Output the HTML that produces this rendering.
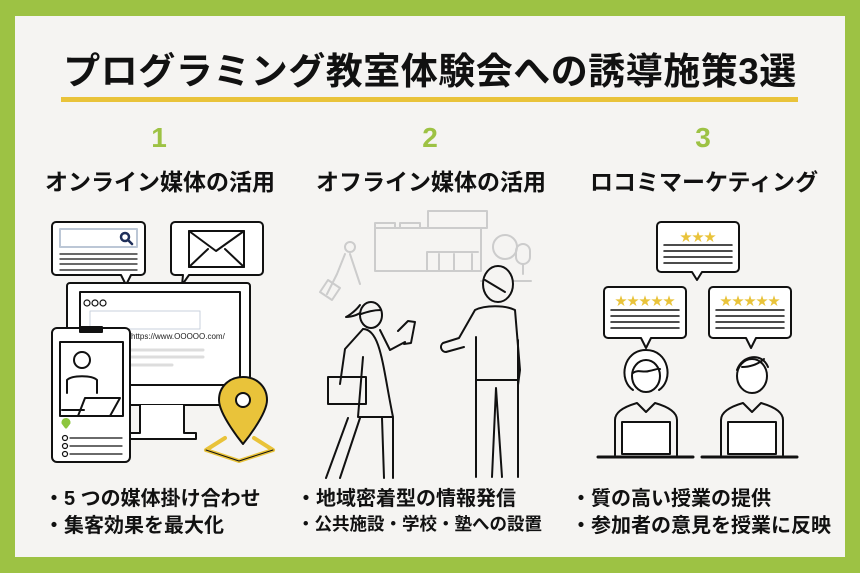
<!DOCTYPE html>
<html><head><meta charset="utf-8"><style>
html,body{margin:0;padding:0;}
body{width:860px;height:573px;background:#9dc244;position:relative;overflow:hidden;font-family:"Liberation Sans","Noto Sans CJK JP",sans-serif;}
.in{position:absolute;left:15px;top:16px;width:830px;height:541px;background:#f5f4f2;}
.t{position:absolute;white-space:nowrap;font-weight:bold;color:#111;}
</style></head><body>
<div class="in"></div>
<div class="t" style="left:0;width:860px;text-align:center;top:41px;font-size:37px;letter-spacing:0.5px;">プログラミング教室体験会への誘導施策3選</div>
<div style="position:absolute;left:61px;top:97px;width:737px;height:5px;background:#e9c33a"></div>
<div class="t" style="left:145px;top:122px;font-size:28px;color:#9dc244;width:28px;text-align:center">1</div>
<div class="t" style="left:416px;top:122px;font-size:28px;color:#9dc244;width:28px;text-align:center">2</div>
<div class="t" style="left:689px;top:122px;font-size:28px;color:#9dc244;width:28px;text-align:center">3</div>
<div class="t" style="left:45px;top:163px;font-size:23px;">オンライン媒体の活用</div>
<div class="t" style="left:316px;top:163px;font-size:23px;">オフライン媒体の活用</div>
<div class="t" style="left:590px;top:163px;font-size:23px;">ロコミマーケティング</div>
<div class="t" style="left:44px;top:482px;font-size:20px;">・5 つの媒体掛け合わせ</div>
<div class="t" style="left:44px;top:509px;font-size:20px;">・集客効果を最大化</div>
<div class="t" style="left:296px;top:482px;font-size:20px;">・地域密着型の情報発信</div>
<div class="t" style="left:297px;top:511px;font-size:17.5px;">・公共施設・学校・塾への設置</div>
<div class="t" style="left:571px;top:482px;font-size:20px;">・質の高い授業の提供</div>
<div class="t" style="left:571px;top:509px;font-size:20px;">・参加者の意見を授業に反映</div>
<svg width="860" height="573" style="position:absolute;left:0;top:0" fill="none" stroke="#111" stroke-width="2" stroke-linejoin="round" stroke-linecap="round">
<path d="M56 222h85a4 4 0 0 1 4 4v45a4 4 0 0 1-4 4h-10l-5 10-5-10H56a4 4 0 0 1-4-4v-45a4 4 0 0 1 4-4z" fill="#fff"/>
<rect x="60" y="229" width="77" height="18" fill="#fff" stroke="#bcc7d6"/>
<circle cx="125" cy="237" r="4" stroke="#1f2f5a" stroke-width="2.5"/><path d="M128 240l4 4" stroke="#1f2f5a" stroke-width="2.5"/>
<path d="M60 254h77M60 259h77M60 264h77M60 270h77" stroke-width="1.3"/>
<path d="M175 222h84a4 4 0 0 1 4 4v45a4 4 0 0 1-4 4h-70l-7 10 1-10h-8a4 4 0 0 1-4-4v-45a4 4 0 0 1 4-4z" fill="#fff"/>
<rect x="189" y="231" width="55" height="36"/><path d="M189 231l27 20 28-20M189 267l19-18M244 267l-19-18"/>
<rect x="67" y="283" width="183" height="122" rx="3" fill="#fff"/>
<rect x="80" y="292" width="160" height="93" fill="#fff"/>
<path d="M140 405v28h-12v6h68v-6h-12v-28" fill="#fff"/>
<circle cx="87" cy="303" r="3" stroke-width="1.2"/><circle cx="95" cy="303" r="3" stroke-width="1.2"/><circle cx="103" cy="303" r="3" stroke-width="1.2"/>
<rect x="90" y="311" width="110" height="18" stroke="#c8d0dc" stroke-width="1"/>
<text x="131" y="339" font-size="8" fill="#222" stroke="none" font-family="Liberation Sans">https://www.OOOOO.com/</text>
<path d="M130 350h73M130 357h73M130 365h42" stroke="#ddd" stroke-width="3"/>
<rect x="52" y="328" width="78" height="134" rx="5" fill="#fff"/>
<rect x="80" y="327" width="22" height="5" fill="#111"/>
<rect x="60" y="342" width="63" height="74"/>
<circle cx="82" cy="360" r="8"/><path d="M67 393v-13c5-5 25-5 30 0v13M62 410h22M85 398h35l-10 18H78z"/>
<path d="M63 423l3 4 3-4a2 2 0 0 0-6-1z" fill="#8dc63f" stroke="#8dc63f" stroke-width="3"/>
<circle cx="65" cy="438" r="2.5" stroke-width="1.2"/><circle cx="65" cy="446" r="2.5" stroke-width="1.2"/><circle cx="65" cy="454" r="2.5" stroke-width="1.2"/>
<path d="M70 438h52M70 446h52M70 454h52" stroke-width="1.2"/>
<path d="M206 450l19-12M273 450l-19-12M206 450l33 11 34-11" stroke="#e9c33a" stroke-width="4"/>
<path d="M206 450l33 11 34-11" stroke="#111" stroke-width="1" fill="none"/>
<path d="M243 377c-14 0-24 10-24 23 0 15 24 44 24 44s24-29 24-44c0-13-10-23-24-23z" fill="#e9c33a"/>
<circle cx="243" cy="400" r="7" fill="#fff"/>
<g stroke="#ccc" stroke-width="2">
<rect x="428" y="211" width="59" height="17"/><path d="M375 228h106v43H375zM375 228v-5h20v5M400 228v-5h20v5"/>
<path d="M435 252h-8v19M435 252h43M439 254v17M454 254v17M472 254v17"/>
<circle cx="505" cy="247" r="12"/><rect x="516" y="244" width="14" height="20" rx="7"/><path d="M523 264v10M481 281h50"/>
<circle cx="350" cy="247" r="5"/><path d="M345 254l-8 20-10 20M350 254l10 30M328 280l12 8-8 12-12-8z"/>
</g>
<g stroke-width="2">
<ellipse cx="371" cy="315" rx="11" ry="13" fill="#f5f4f2"/><path d="M360 305c-6 8-14 12-14 12s8 0 14-4"/><path d="M361 314c6-2 12-4 20-4"/>
<path d="M363 329l-18 20 -5 35M380 330l10 20 15-8M398 331l10-10 l7 1-4 21-7 1"/>
<path d="M363 329c18 0 20 40 30 88-18 0-30 0-35 0l5-60"/>
<rect x="328" y="377" width="38" height="27"/>
<path d="M348 418l-22 60M360 418l-20 60M382 418l2 60M393 418v60"/>
<ellipse cx="498" cy="284" rx="15" ry="18" fill="#f5f4f2"/><path d="M485 280l20 12"/>
<path d="M475 310c10-5 30-5 40 0l5 60-2 15M475 310l-16 28-16 5a5 5 0 0 0 3 9l18-5M476 337v140M477 380h40M518 340v137M496 388l-4 89M496 388l6 89"/>
</g>
<path d="M661 222h74a4 4 0 0 1 4 4v42a4 4 0 0 1-4 4h-33l-5 8-5-8h-31a4 4 0 0 1-4-4v-42a4 4 0 0 1 4-4z" fill="#fff"/>
<path d="M608 287h74a4 4 0 0 1 4 4v43a4 4 0 0 1-4 4h-31l-5 10-5-10h-33a4 4 0 0 1-4-4v-43a4 4 0 0 1 4-4z" fill="#fff"/>
<path d="M713 287h74a4 4 0 0 1 4 4v43a4 4 0 0 1-4 4h-31l-5 10-5-10h-33a4 4 0 0 1-4-4v-43a4 4 0 0 1 4-4z" fill="#fff"/>
<path d="M664 245h68M664 251h68M664 257h68M664 263h68M611 310h68M611 316h68M611 322h68M611 328h68M716 310h68M716 316h68M716 322h68M716 328h68" stroke-width="1.5"/>
<text x="698" y="241" font-size="12" fill="#e9c33a" stroke="none" text-anchor="middle">★★★</text>
<text x="645" y="305" font-size="12" fill="#e9c33a" stroke="none" text-anchor="middle">★★★★★</text>
<text x="750" y="305" font-size="12" fill="#e9c33a" stroke="none" text-anchor="middle">★★★★★</text>
<path d="M633 390c-15-10-10-40 13-40s28 30 13 40" fill="#fff"/><ellipse cx="646" cy="376" rx="14" ry="16" fill="#fff"/><path d="M633 373c5-4 10 0 16-2 6-1 9-3 11-2"/>
<path d="M615 455v-35c0-10 15-15 22-17l9 9 9-9c7 2 22 7 22 17v35"/>
<rect x="622" y="422" width="48" height="32" fill="#fff"/>
<ellipse cx="752" cy="376" rx="15" ry="17" fill="#fff"/><path d="M737 370c5-15 25-18 31-3M742 367c8 0 15-2 22-8"/>
<path d="M721 455v-35c0-10 15-15 22-17l9 9 9-9c7 2 22 7 22 17v35"/>
<rect x="728" y="422" width="48" height="32" fill="#fff"/>
<path d="M598 457h95M702 457h95" stroke-width="3"/>
</svg>
</body></html>
